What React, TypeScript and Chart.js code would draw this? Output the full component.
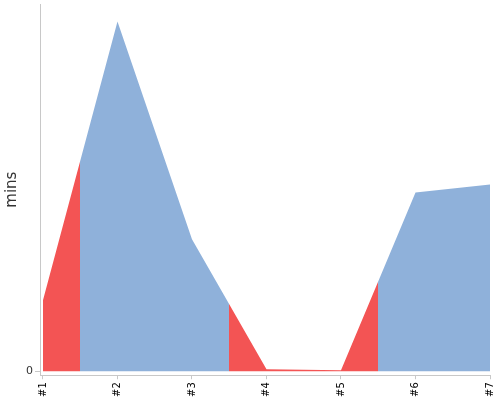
import React, { useEffect, useRef } from 'react';
import { Chart, registerables } from 'chart.js';

Chart.register(...registerables);

// data
const categories = ['#1', '#2', '#3', '#4', '#5', '#6', '#7'];
const minutes = [7.1, 35, 13.2, 0.2, 0.1, 17.9, 18.7];
// true = blue band, false = red band around that point
const onTarget = [false, true, true, false, false, true, true];

const RED = '#f35454';
const BLUE = '#8fb1da';
const AXIS = '#c8c8c8';

const bandFill = (ctx: any) => {
  const chart = ctx.chart;
  const area = chart.chartArea;
  const x = chart.scales.x;
  if (!area || !x) return BLUE;
  const g = chart.ctx.createLinearGradient(area.left, 0, area.right, 0);
  const w = area.right - area.left;
  const frac = (px: number) => Math.min(1, Math.max(0, (px - area.left) / w));
  categories.forEach((_, i) => {
    const c = onTarget[i] ? BLUE : RED;
    const from = i === 0 ? area.left : (x.getPixelForValue(i - 1) + x.getPixelForValue(i)) / 2;
    const to = i === categories.length - 1 ? area.right : (x.getPixelForValue(i) + x.getPixelForValue(i + 1)) / 2;
    g.addColorStop(frac(from), c);
    g.addColorStop(frac(to), c);
  });
  return g;
};

const AreaChart = () => {
  const chartRef = useRef<HTMLCanvasElement>(null);

  useEffect(() => {
    const maxVal = Math.max(...minutes);

    const chart = new Chart(chartRef.current!, {
      type: 'line',
      data: {
        datasets: [
          {
            label: 'mins',
            data: minutes.map((v, i) => ({ x: i, y: v })),
            backgroundColor: bandFill,
            borderWidth: 0,
            pointRadius: 0,
            tension: 0,
            fill: 'origin',
          },
        ],
      },
      options: {
        responsive: false,
        animation: false,
        layout: { padding: { top: 4, right: 10, left: 0, bottom: 0 } },
        plugins: { legend: { display: false }, tooltip: { enabled: false } },
        scales: {
          x: {
            type: 'linear',
            min: -0.04,
            max: categories.length - 1,
            afterBuildTicks: (scale: any) => {
              scale.ticks = categories.map((_, i) => ({ value: i }));
            },
            afterFit: (scale: any) => {
              scale.paddingLeft = 0;
              scale.paddingRight = 0;
            },
            ticks: {
              autoSkip: false,
              minRotation: 90,
              maxRotation: 90,
              padding: 3,
              color: '#000',
              font: { family: 'DejaVu Sans', size: 10 },
              callback: (v: any) => categories[v],
            },
            grid: { display: true, drawOnChartArea: false, tickLength: 4, color: AXIS },
            border: { display: true, color: AXIS },
          },
          y: {
            min: -0.4,
            max: maxVal * 1.05,
            afterBuildTicks: (scale: any) => {
              scale.ticks = [{ value: 0 }];
            },
            afterFit: (scale: any) => {
              scale.width = 40;
              scale.paddingTop = 0;
              scale.paddingBottom = 0;
            },
            ticks: {
              padding: 2,
              color: '#333',
              font: { family: 'DejaVu Sans', size: 11 },
            },
            grid: { display: true, drawOnChartArea: false, tickLength: 5, color: AXIS },
            border: { display: true, color: AXIS },
            title: {
              display: true,
              text: 'mins',
              color: '#333',
              padding: { top: 3, bottom: 0 },
              font: { family: 'DejaVu Sans', size: 15 },
            },
          },
        },
      },
    });

    return () => {
      chart.destroy();
    };
  }, []);

  return <canvas ref={chartRef} width={500} height={400} />;
};

export default function App() {
  return (
    <div style={{ position: 'fixed', left: 0, top: 0, width: 500, height: 400, background: '#fff' }}>
      <AreaChart />
    </div>
  );
}
